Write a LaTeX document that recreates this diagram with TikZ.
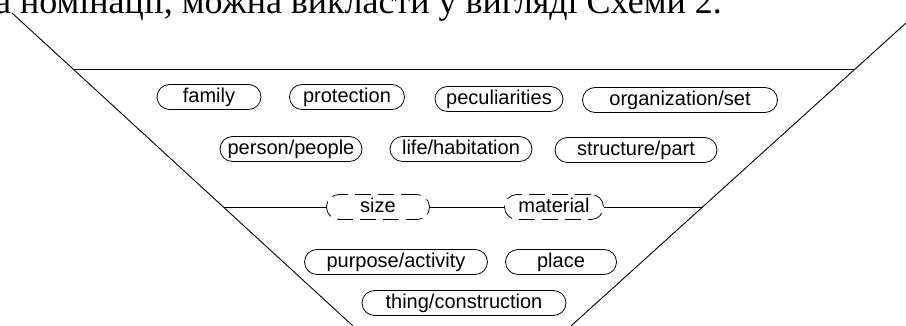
\documentclass[tikz,border=0pt]{standalone}
\usepackage{fontspec}
\setmainfont{Liberation Sans}
\newfontfamily\serifua{Liberation Serif}
\begin{document}
\begin{tikzpicture}[x=1pt,y=1pt,
  pill/.style={draw=black, line width=0.8pt, rounded corners=12.5pt, minimum height=25pt,
    inner sep=0pt, font=\fontsize{20}{24}\selectfont, text height=12pt, text depth=0pt},
  dpill/.style={pill, dash pattern=on 16pt off 7pt},
  frameline/.style={draw=black, line width=0.9pt}]
\useasboundingbox (0,0) rectangle (906,326);
\clip (0,0) rectangle (906,326);
\node[anchor=base east, inner sep=0pt, font=\serifua\fontsize{36}{43}\selectfont] (caption) at (722,312.5) {та номінації, можна викласти у вигляді Схеми 2.};
% frame
\coordinate (L1) at (12,313);
\coordinate (L2) at (353,0);
\coordinate (R1) at (906,303);
\coordinate (R2) at (571,0);
\coordinate (TL) at (73,257);
\coordinate (TR) at (855,257);
\coordinate (ML) at (224,119);
\coordinate (MR) at (703,119);
\draw[frameline] (L1) -- (L2);
\draw[frameline] (R1) -- (R2);
\draw[frameline] (TL) -- (TR);
% nodes
\node[pill, minimum width=104pt] (family) at (209,229) {family};
\node[pill, minimum width=115pt] (protection) at (347,229) {protection};
\node[pill, minimum width=128pt] (pecul) at (499,227) {peculiarities};
\node[pill, minimum width=195pt] (org) at (680,226) {organization/set};
\node[pill, minimum width=142pt] (person) at (291,177) {person/people};
\node[pill, minimum width=142pt] (life) at (461,177) {life/habitation};
\node[pill, minimum width=162pt] (struct) at (636,176) {structure/part};
\node[dpill, minimum width=103pt] (size) at (378,119) {size};
\node[dpill, minimum width=99pt] (material) at (554,119) {material};
\node[pill, minimum width=183pt] (purpose) at (396,64) {purpose/activity};
\node[pill, minimum width=111pt] (place) at (561,64) {place};
\node[pill, minimum width=204pt] (thing) at (464,23) {thing/construction};
% middle line
\draw[frameline] (ML) -- (size.west);
\draw[frameline] (size.east) -- (material.west);
\draw[frameline] (material.east) -- (MR);
\end{tikzpicture}
\end{document}
